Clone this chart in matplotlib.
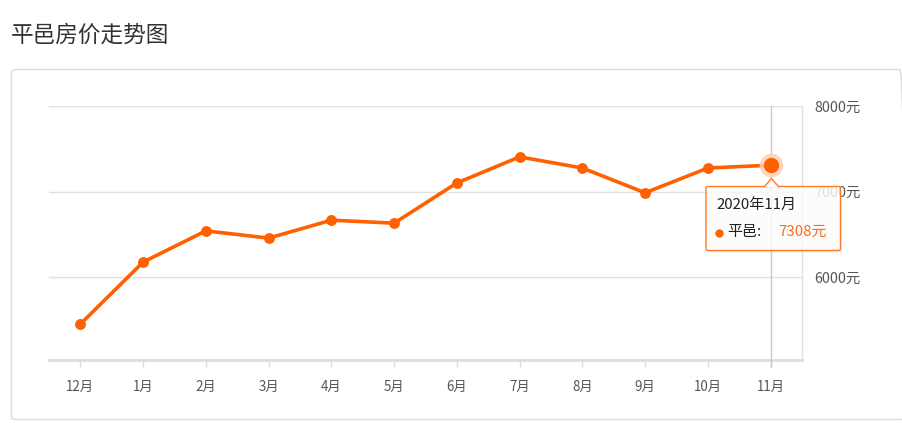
import matplotlib
matplotlib.use("Agg")
import matplotlib.pyplot as plt
from matplotlib.patches import FancyBboxPatch, Polygon
import matplotlib.lines as mlines

plt.rcParams['font.family'] = ['Noto Sans CJK SC', 'DejaVu Sans']

title = "平邑房价走势图"
months = ["12月", "1月", "2月", "3月", "4月", "5月", "6月", "7月", "8月", "9月", "10月", "11月"]
prices = [5450, 6175, 6540, 6455, 6665, 6630, 7100, 7405, 7275, 6985, 7275, 7308]
yticks = [6000, 7000, 8000]
ytick_labels = ["6000元", "7000元", "8000元"]
tooltip_title = "2020年11月"
series_name = "平邑"
highlight_idx = 11

W, H = 902, 423
fig = plt.figure(figsize=(W / 100, H / 100), dpi=100)
fig.patch.set_facecolor("white")

def fx(x):
    return x / W

def fy(y):
    return 1 - y / H

LINE = "#ff6000"

# title
fig.text(fx(11), fy(35), title, fontsize=16.3, color="#333333", va="center", ha="left")

# card border
card = FancyBboxPatch((fx(11.5), fy(419.5)), fx(905) - fx(11.5), fy(69.5) - fy(419.5),
                      boxstyle="round,pad=0,rounding_size=0.006", transform=fig.transFigure,
                      facecolor="none", edgecolor="#dcdcdc", linewidth=1.0, zorder=-1)
fig.patches.append(card)

ax = fig.add_axes([fx(49), fy(360), fx(802) - fx(49), fy(106) - fy(360)])
ax.set_facecolor("none")
x = list(range(len(months)))
ax.set_xlim(-0.5, len(months) - 0.5)
ax.set_ylim(5030, 8000)

for v in yticks:
    ax.axhline(v, color="#e0e0e0", linewidth=1.0, zorder=1)

for s in ["top", "left"]:
    ax.spines[s].set_visible(False)
ax.spines["right"].set_color("#e0e0e0")
ax.spines["right"].set_linewidth(1.0)
ax.spines["bottom"].set_color("#dddddd")
ax.spines["bottom"].set_linewidth(2.0)

ax.yaxis.tick_right()
ax.set_yticks(yticks)
ax.set_yticklabels(ytick_labels)
ax.tick_params(axis="y", length=0, pad=9, labelsize=10.3, labelcolor="#555555")
ax.set_xticks(x)
ax.set_xticklabels(months)
ax.tick_params(axis="x", length=5, width=1, color="#dddddd", pad=9, labelsize=9.6, labelcolor="#555555")

# crosshair
ax.axvline(highlight_idx, color="#c8c8c8", linewidth=1.0, zorder=2, ymin=0, ymax=1)
fig.lines.append(mlines.Line2D([fx(771), fx(771)], [fy(360), fy(367)], transform=fig.transFigure,
                               color="#c8c8c8", linewidth=1.0))

ax.plot(x, prices, color=LINE, linewidth=2.6, marker="o", markersize=6.8,
        markerfacecolor=LINE, markeredgecolor=LINE, zorder=4, clip_on=False)

# highlighted point
ax.plot([highlight_idx], [prices[highlight_idx]], marker="o", markersize=17,
        markerfacecolor="#fcd3bd", markeredgecolor="none", alpha=0.9, zorder=5, clip_on=False)
ax.plot([highlight_idx], [prices[highlight_idx]], marker="o", markersize=10,
        markerfacecolor=LINE, markeredgecolor=LINE, zorder=6, clip_on=False)

# tooltip shadow
shadow = FancyBboxPatch((fx(707), fy(252.5)), fx(841.5) - fx(707), fy(188) - fy(252.5),
                        boxstyle="round,pad=0,rounding_size=0.003", transform=fig.transFigure,
                        facecolor="#000000", edgecolor="none", alpha=0.06, zorder=9)
fig.patches.append(shadow)
TIP = "#ff7a26"
box = FancyBboxPatch((fx(706), fy(250.5)), fx(840.5) - fx(706), fy(186.5) - fy(250.5),
                     boxstyle="round,pad=0,rounding_size=0.003", transform=fig.transFigure,
                     facecolor=(1, 1, 1, 0.82), edgecolor=TIP, linewidth=1.0, zorder=10)
fig.patches.append(box)
arrow = Polygon([(fx(764), fy(187.2)), (fx(771.5), fy(178.5)), (fx(779), fy(187.2))],
                closed=False, transform=fig.transFigure, facecolor="white", edgecolor=TIP,
                linewidth=1.0, zorder=11)
fig.patches.append(arrow)
fig.text(fx(716), fy(205), tooltip_title, fontsize=10.8, color="#222222", va="center", ha="left", zorder=12)
fig.lines.append(mlines.Line2D([fx(718.5)], [fy(233)], transform=fig.transFigure, marker="o",
                               markersize=6, markerfacecolor=LINE, markeredgecolor="none",
                               linestyle="none", zorder=12))
fig.text(fx(727), fy(232), series_name + ":", fontsize=10.8, color="#222222", va="center", ha="left", zorder=12)
fig.text(fx(778), fy(232), f"{prices[highlight_idx]}元", fontsize=10.8, color="#ff6a1a", va="center",
         ha="left", zorder=12)

fig.savefig("out.png", dpi=100)
